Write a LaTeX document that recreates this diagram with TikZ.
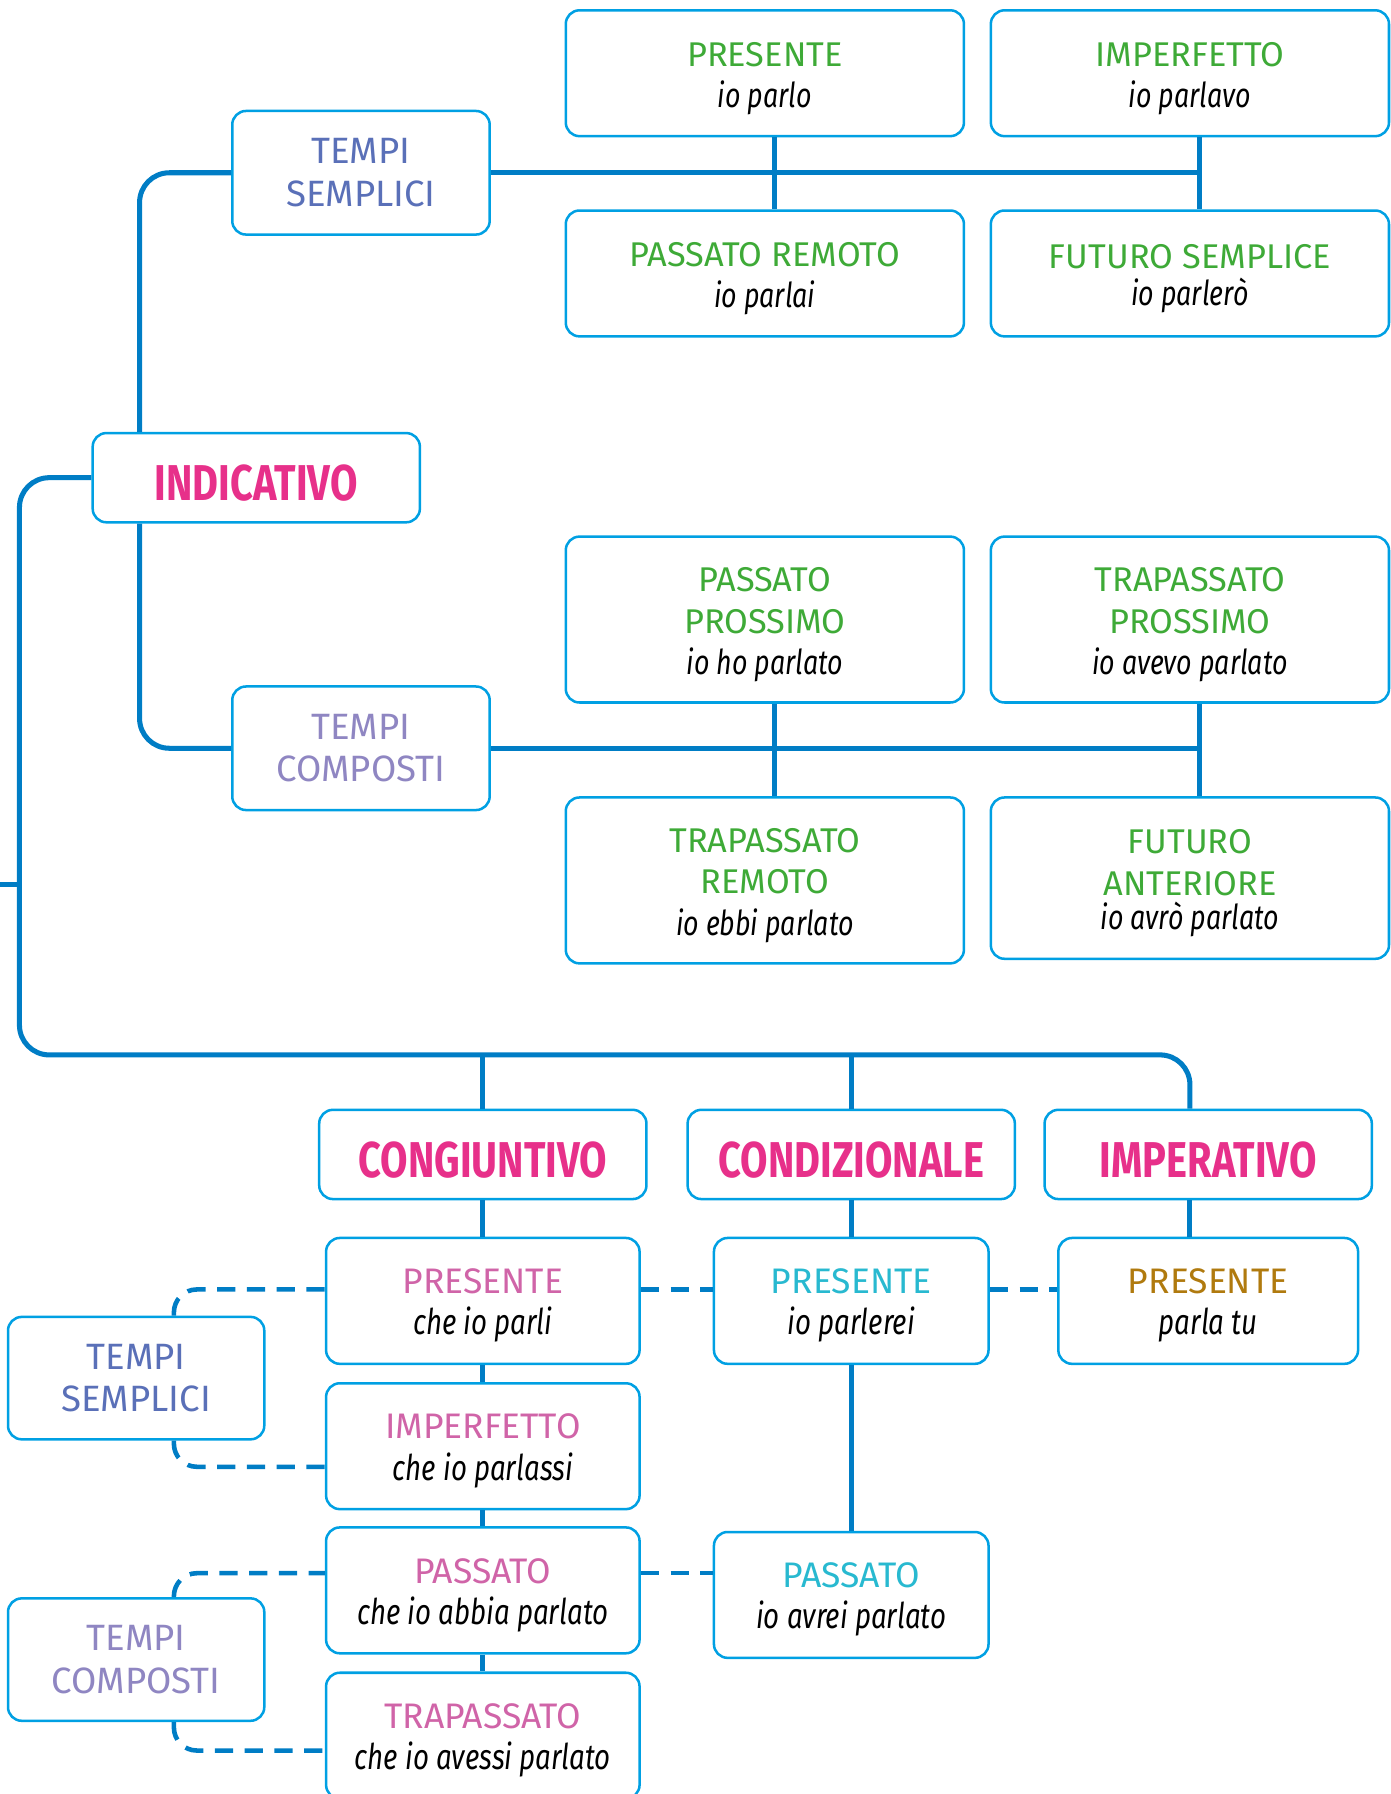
\documentclass[tikz,border=0pt]{standalone}
\usepackage{fontspec}
\setmainfont{Fira Sans}
\newfontfamily\exfont{Fira Sans}[FakeStretch=0.78]
\newfontfamily\moodfont{Fira Sans}[FakeStretch=0.79]
\definecolor{boxline}{RGB}{0,160,227}
\definecolor{linkline}{RGB}{0,125,197}
\definecolor{tensegreen}{RGB}{62,170,55}
\definecolor{moodpink}{RGB}{231,48,138}
\definecolor{semplcol}{RGB}{90,112,184}
\definecolor{compcol}{RGB}{143,134,194}
\definecolor{congcol}{RGB}{208,100,168}
\definecolor{condcol}{RGB}{40,185,208}
\definecolor{impcol}{RGB}{176,122,14}
\newcommand{\esempio}[1]{{\exfont\itshape\color{black}#1}}
\newcommand{\tempo}[3][0pt]{\rule{0pt}{15pt}#2\\[#1]\esempio{#3}}

\begin{document}
\begin{tikzpicture}[x=0.5pt, y=-0.5pt,
  box/.style={draw=boxline, line width=1.1pt, rounded corners=6pt, fill=white, align=center, inner sep=0pt},
  tense/.style={box, text=tensegreen, font=\fontsize{15}{18}\selectfont, minimum width=174pt, minimum height=55pt},
  mood/.style={box, text=moodpink, font=\moodfont\bfseries\fontsize{22}{26}\selectfont, minimum width=143pt, minimum height=39pt,
    execute at begin node=\rule{0pt}{20.5pt}},
  tempi/.style={box, font=\fontsize{16}{18.5}\selectfont, minimum width=112.5pt, minimum height=54pt},
  subtense/.style={box, font=\fontsize{15.5}{18}\selectfont, minimum height=55pt},
  link/.style={draw=linkline, line width=2.2pt},
  dashlink/.style={draw=linkline, line width=2pt, dash pattern=on 8pt off 5pt}]
  \useasboundingbox (0,0) rectangle (1215,1568);
  \coordinate (spine) at (122,0);
  \coordinate (mainbus) at (17,922);
  \coordinate (stub) at (0,773);
  \coordinate (lcol) at (677,0);
  \coordinate (rcol) at (1048,0);
  \coordinate (impx) at (1040,0);

  \node[mood, minimum width=143pt] (indic) at (224,417.5) {INDICATIVO};
  \node[tempi, text=semplcol] (tsInd) at (315.5,151) {TEMPI\\SEMPLICI};
  \node[tempi, text=compcol] (tcInd) at (315.5,654) {TEMPI\\COMPOSTI};

  \node[tense] (presInd) at (668.5,64) {\tempo{PRESENTE}{io parlo}};
  \node[tense] (imperfInd) at (1040,64) {\tempo{IMPERFETTO}{io parlavo}};
  \node[tense] (passRem) at (668.5,239) {\tempo{PASSATO REMOTO}{io parlai}};
  \node[tense] (futSem) at (1040,239) {\tempo[-2pt]{FUTURO SEMPLICE}{io parlerò}};

  \node[tense, minimum height=72.5pt] (passPros) at (668.5,541.5) {\tempo{PASSATO\\PROSSIMO}{io ho parlato}};
  \node[tense, minimum height=72.5pt] (trapPros) at (1040,541.5) {\tempo{TRAPASSATO\\PROSSIMO}{io avevo parlato}};
  \node[tense, minimum height=72.5pt] (trapRem) at (668.5,769.5) {\tempo{TRAPASSATO\\REMOTO}{io ebbi parlato}};
  \node[tense, minimum height=70.5pt] (futAnt) at (1040,767.5) {\tempo[-3pt]{FUTURO\\ANTERIORE}{io avrò parlato}};

  \node[mood] (cong) at (422,1009) {CONGIUNTIVO};
  \node[mood] (cond) at (744,1009) {CONDIZIONALE};
  \node[mood] (imper) at (1056,1009) {IMPERATIVO};

  \node[subtense, text=congcol, minimum width=137pt] (cPres) at (422,1137) {\tempo{PRESENTE}{che io parli}};
  \node[subtense, text=congcol, minimum width=137pt] (cImperf) at (422,1264) {\tempo{IMPERFETTO}{che io parlassi}};
  \node[subtense, text=congcol, minimum width=137pt] (cPass) at (422,1390) {\tempo{PASSATO}{che io abbia parlato}};
  \node[subtense, text=congcol, minimum width=137pt] (cTrap) at (422,1517) {\tempo{TRAPASSATO}{che io avessi parlato}};
  \node[subtense, text=condcol, minimum width=120pt] (dPres) at (744,1137) {\tempo{PRESENTE}{io parlerei}};
  \node[subtense, text=condcol, minimum width=120pt] (dPass) at (744,1394) {\tempo{PASSATO}{io avrei parlato}};
  \node[subtense, text=impcol, minimum width=131pt] (iPres) at (1056,1137) {\tempo{PRESENTE}{parla tu}};

  \node[tempi, text=semplcol, minimum width=112pt, minimum height=53.5pt] (tsCong) at (119,1204.5) {TEMPI\\SEMPLICI};
  \node[tempi, text=compcol, minimum width=112pt, minimum height=53.5pt] (tcCong) at (119,1450.5) {TEMPI\\COMPOSTI};

  \draw[link, rounded corners=13pt] (indic.north -| spine) |- (tsInd.west);
  \draw[link, rounded corners=13pt] (indic.south -| spine) |- (tcInd.west);
  \draw[link] (tsInd.east) -- (tsInd.east -| rcol);
  \draw[link] (presInd.south -| lcol) -- (passRem.north -| lcol);
  \draw[link] (imperfInd.south -| rcol) -- (futSem.north -| rcol);
  \draw[link] (tcInd.east) -- (tcInd.east -| rcol);
  \draw[link] (passPros.south -| lcol) -- (trapRem.north -| lcol);
  \draw[link] (trapPros.south -| rcol) -- (futAnt.north -| rcol);

  \draw[link, rounded corners=13pt] (indic.west) -| (mainbus) -| (imper.north -| impx);
  \draw[link] (stub) -- (stub -| mainbus);
  \draw[link] (cong.north) -- (cong.north |- mainbus);
  \draw[link] (cond.north) -- (cond.north |- mainbus);

  \draw[link] (cong.south) -- (cPres.north);
  \draw[link] (cPres.south) -- (cImperf.north);
  \draw[link] (cImperf.south) -- (cPass.north);
  \draw[link] (cPass.south) -- (cTrap.north);
  \draw[link] (cond.south) -- (dPres.north);
  \draw[link] (dPres.south) -- (dPass.north);
  \draw[link] (imper.south -| impx) -- (iPres.north -| impx);

  \draw[dashlink] ([yshift=5pt]cPres.east) -- ([yshift=5pt]dPres.west);
  \draw[dashlink] ([yshift=5pt]dPres.east) -- ([yshift=5pt]iPres.west);
  \draw[dashlink] ([yshift=7.5pt]cPass.east) -- ([yshift=7.5pt]cPass.east -| dPass.west);
  \draw[dashlink, rounded corners=10pt] ([xshift=16.5pt]tsCong.north) |- ([yshift=5pt]cPres.west);
  \draw[dashlink, rounded corners=10pt] ([xshift=16.5pt]tsCong.south) |- ([yshift=-9pt]cImperf.west);
  \draw[dashlink, rounded corners=10pt] ([xshift=16.5pt]tcCong.north) |- ([yshift=7.5pt]cPass.west);
  \draw[dashlink, rounded corners=10pt] ([xshift=16.5pt]tcCong.south) |- ([yshift=-6.5pt]cTrap.west);
\end{tikzpicture}
\end{document}
